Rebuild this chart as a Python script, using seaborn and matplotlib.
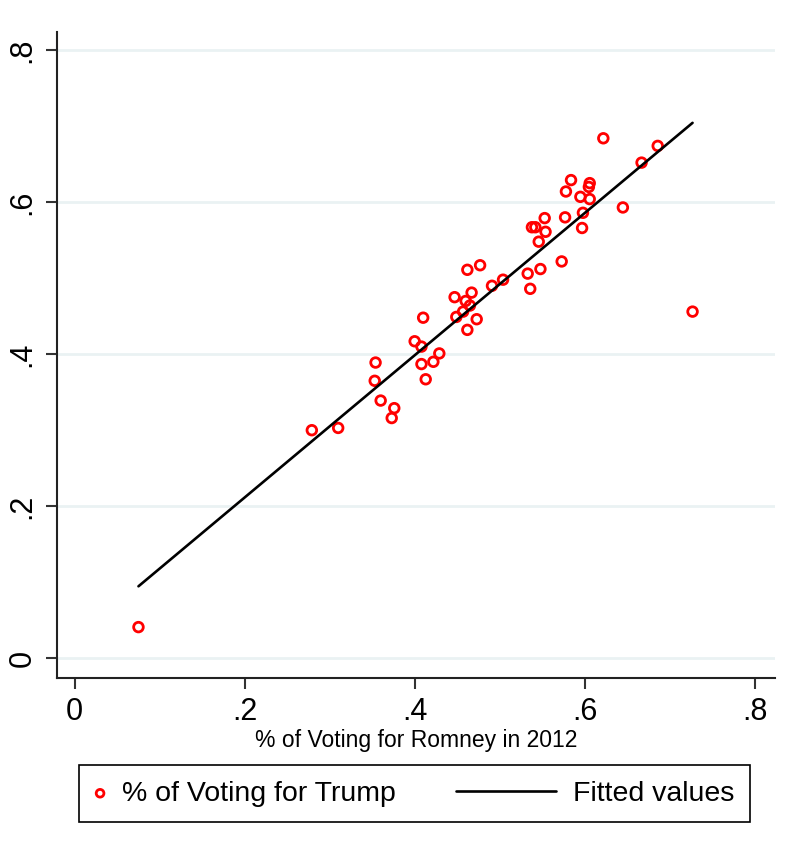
import numpy as np
import pandas as pd
import matplotlib
matplotlib.use("Agg")
import matplotlib.pyplot as plt
from matplotlib.legend_handler import HandlerPathCollection
from matplotlib.collections import PathCollection
import seaborn as sns

romney = [0.075, 0.279, 0.310, 0.354, 0.353, 0.360, 0.376, 0.373, 0.400, 0.408,
          0.410, 0.408, 0.413, 0.422, 0.429, 0.447, 0.449, 0.457, 0.460, 0.465,
          0.467, 0.462, 0.473, 0.462, 0.477, 0.491, 0.504, 0.536, 0.533, 0.548,
          0.573, 0.546, 0.554, 0.538, 0.542, 0.597, 0.553, 0.577, 0.598, 0.645,
          0.606, 0.595, 0.578, 0.605, 0.606, 0.584, 0.667, 0.686, 0.622, 0.727]
trump = [0.041, 0.300, 0.303, 0.389, 0.365, 0.339, 0.329, 0.316, 0.417, 0.410,
         0.448, 0.387, 0.367, 0.390, 0.401, 0.475, 0.449, 0.456, 0.470, 0.464,
         0.481, 0.432, 0.446, 0.511, 0.517, 0.490, 0.498, 0.486, 0.506, 0.512,
         0.522, 0.548, 0.561, 0.567, 0.567, 0.566, 0.579, 0.580, 0.586, 0.593,
         0.604, 0.607, 0.614, 0.620, 0.625, 0.629, 0.652, 0.674, 0.684, 0.456]

x_ticks = [0, 0.2, 0.4, 0.6, 0.8]
x_tick_labels = ["0", ".2", ".4", ".6", ".8"]
y_ticks = [0, 0.2, 0.4, 0.6, 0.8]
y_tick_labels = ["0", ".2", ".4", ".6", ".8"]

df = pd.DataFrame({"romney": romney, "trump": trump})

sns.set_style("white")
plt.rcParams["font.family"] = ["Liberation Sans", "DejaVu Sans"]
plt.rcParams["text.color"] = "black"
plt.rcParams["axes.labelcolor"] = "black"
plt.rcParams["xtick.color"] = "black"
plt.rcParams["ytick.color"] = "black"


class NarrowMarkerHandler(HandlerPathCollection):
    def legend_artist(self, legend, orig_handle, fontsize, handlebox):
        handlebox.width = 7.5  # points
        return super().legend_artist(legend, orig_handle, fontsize, handlebox)


fig = plt.figure(figsize=(7.9, 8.61), dpi=100)
ax = fig.add_axes([0.072, 0.2125, 0.909, 0.7505])

for yt in y_ticks:
    ax.axhline(yt, color="#eaf2f3", lw=2, zorder=0)

sns.scatterplot(data=df, x="romney", y="trump", ax=ax, marker="o", s=48,
                facecolors="none", edgecolor="red", linewidth=2.0,
                label="% of Voting for Trump", zorder=3)
sns.regplot(data=df, x="romney", y="trump", ax=ax, scatter=False, ci=None,
            color="black", label="Fitted values", line_kws={"lw": 1.9, "zorder": 4})

ax.set_xlim(-0.021, 0.824)
ax.set_ylim(-0.026, 0.824)
ax.set_xticks(x_ticks)
ax.set_xticklabels(x_tick_labels, fontsize=22)
ax.set_yticks(y_ticks)
ax.set_yticklabels(y_tick_labels, fontsize=22, rotation=90, va="center")
ax.tick_params(axis="both", direction="out", length=8, width=1.5, color="#333333", pad=6,
               labelcolor="black")
ax.tick_params(axis="both", bottom=True, left=True)
for side in ["top", "right"]:
    ax.spines[side].set_visible(False)
for side in ["left", "bottom"]:
    ax.spines[side].set_color("#222222")
    ax.spines[side].set_linewidth(1.5)

ax.set_xlabel("% of Voting for Romney in 2012", fontsize=16.5, labelpad=1, color="black")
ax.set_ylabel("")

handles, labels = ax.get_legend_handles_labels()
leg = ax.legend(handles, labels, loc="upper center", bbox_to_anchor=(0.498, -0.1347),
                borderaxespad=0, ncol=2, fontsize=20.5,
                frameon=True, fancybox=False, edgecolor="black", framealpha=1,
                handlelength=3.5, columnspacing=2.1, borderpad=0.55, handletextpad=0.6,
                markerscale=0.8,
                handler_map={PathCollection: NarrowMarkerHandler()})
leg.get_frame().set_linewidth(1.2)

fig.savefig("out.png", dpi=100)
